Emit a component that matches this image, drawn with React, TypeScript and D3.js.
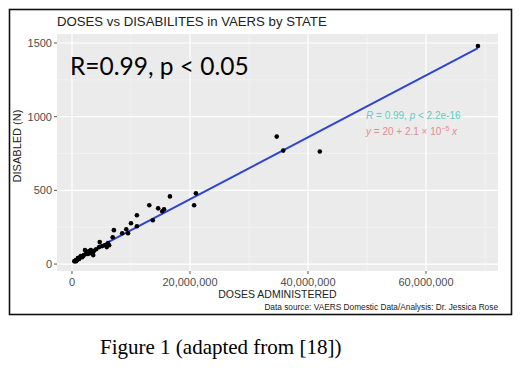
import React from "react";
import * as d3 from "d3";

// Doses administered (millions) and disabled counts per state
const doses: number[] = [
  68.8, 34.7, 35.8, 42.0, 21.0, 20.7, 16.6, 15.6, 15.3, 14.6,
  13.7, 13.1, 11.0, 11.0, 10.0, 9.5, 9.2, 8.5, 7.1, 6.9,
  5.9, 5.6, 4.7, 4.6, 4.1, 3.6, 3.4, 3.1, 2.5, 2.2,
  2.0, 1.9, 1.4, 1.2, 1.0, 0.85, 0.5, 0.7, 1.5, 2.4,
  2.9, 3.7, 6.1, 6.3, 0.4, 1.7, 2.7, 3.2, 5.1, 0.7,
];
const disabled: number[] = [
  1480, 865, 770, 764, 480, 399, 459, 372, 358, 378,
  297, 399, 331, 257, 277, 209, 236, 209, 230, 182,
  115, 128, 149, 115, 101, 61, 81, 74, 81, 95,
  61, 54, 47, 34, 41, 27, 20, 27, 54, 68,
  88, 88, 142, 128, 20, 47, 68, 95, 122, 20,
];
const xTicks: number[] = [0, 20e6, 40e6, 60e6];
const xMinor: number[] = [10e6, 30e6, 50e6, 70e6];
const yTicks: number[] = [0, 500, 1000, 1500];
const yMinor: number[] = [250, 750, 1250];
const intercept = 20;
const slope = 2.1e-5;

const titleText = "DOSES vs DISABILITES in VAERS by STATE";
const bigLabel = "R=0.99, p < 0.05";
const xTitle = "DOSES ADMINISTERED";
const yTitle = "DISABLED (N)";
const captionText = "Data source: VAERS Domestic Data/Analysis: Dr. Jessica Rose";
const figCaption = "Figure 1 (adapted from [18])";

export default function App() {
  const W = 522, H = 376;
  const pL = 57, pR = 498, pT = 34, pB = 271;
  const x = d3.scaleLinear().domain([-2.54e6, 72.2e6]).range([pL, pR]);
  const y = d3.scaleLinear().domain([-47, 1561]).range([pB, pT]);
  const pts = doses.map((d, i) => ({ dx: d * 1e6, dy: disabled[i] }));
  const xs = pts.map((p) => p.dx);
  const lx0 = d3.min(xs) as number, lx1 = d3.max(xs) as number;
  const line = d3.line<number>().x((v) => x(v)).y((v) => y(intercept + slope * v));
  const fmt = d3.format(",");
  const sans = "'Liberation Sans', Arial, sans-serif";
  return (
    <svg width={W} height={H} style={{ position: "absolute", left: 0, top: 0, background: "#fff" }}>
      <rect x={9.5} y={9.5} width={502} height={305} fill="#fff" stroke="#111" strokeWidth={1.6} />
      <rect x={pL} y={pT} width={pR - pL} height={pB - pT} fill="#EBEBEB" />
      {xMinor.filter((v) => x(v) < pR).map((v) => (
        <line key={"xm" + v} x1={x(v)} x2={x(v)} y1={pT} y2={pB} stroke="#F7F7F7" strokeWidth={0.6} />
      ))}
      {yMinor.map((v) => (
        <line key={"ym" + v} x1={pL} x2={pR} y1={y(v)} y2={y(v)} stroke="#F7F7F7" strokeWidth={0.6} />
      ))}
      {xTicks.map((v) => (
        <line key={"xg" + v} x1={x(v)} x2={x(v)} y1={pT} y2={pB} stroke="#fff" strokeWidth={1.2} />
      ))}
      {yTicks.map((v) => (
        <line key={"yg" + v} x1={pL} x2={pR} y1={y(v)} y2={y(v)} stroke="#fff" strokeWidth={1.2} />
      ))}
      {/* ticks */}
      {xTicks.map((v) => (
        <g key={"xt" + v}>
          <line x1={x(v)} x2={x(v)} y1={pB} y2={pB + 3} stroke="#555" strokeWidth={1} />
          <text x={x(v)} y={286} textAnchor="middle" fontFamily={sans} fontSize={11} fill="#4D4D4D">
            {fmt(v)}
          </text>
        </g>
      ))}
      {yTicks.map((v) => (
        <g key={"yt" + v}>
          <line x1={pL - 3} x2={pL} y1={y(v)} y2={y(v)} stroke="#555" strokeWidth={1} />
          <text x={pL - 5} y={y(v) + 4} textAnchor="end" fontFamily={sans} fontSize={11} fill="#4D4D4D">
            {v}
          </text>
        </g>
      ))}
      {/* regression line */}
      <path d={line([lx0, lx1]) || ""} fill="none" stroke="#2F45D1" strokeWidth={2} />
      {/* points */}
      {pts.map((p, i) => (
        <circle key={i} cx={x(p.dx)} cy={y(p.dy)} r={2.3} fill="#000" />
      ))}
      {/* titles */}
      <text x={pL} y={26} fontFamily={sans} fontSize={13.2} fill="#222">{titleText}</text>
      <text x={70} y={75} fontFamily="Lato, 'Open Sans', sans-serif" fontSize={24.5} fill="#000">{bigLabel}</text>
      <text x={(pL + pR) / 2} y={298} textAnchor="middle" fontFamily={sans} fontSize={10.5} fill="#222">{xTitle}</text>
      <text transform={`translate(21,146) rotate(-90)`} textAnchor="middle" fontFamily={sans} fontSize={11} fill="#222">{yTitle}</text>
      <text x={pR} y={310} textAnchor="end" fontFamily={sans} fontSize={8.3} fill="#222">{captionText}</text>
      {/* stat annotation */}
      <text x={366} y={119} fontFamily={sans} fontSize={10} fill="#62CBC2">
        <tspan fontStyle="italic">R</tspan> = 0.99, <tspan fontStyle="italic">p</tspan> &lt; 2.2e-16
      </text>
      <text x={366} y={135} fontFamily={sans} fontSize={10} fill="#E38C8C">
        <tspan fontStyle="italic">y</tspan> = 20 + 2.1 × 10<tspan dy={-4} fontSize={7}>−5</tspan>
        <tspan dy={4}> </tspan><tspan fontStyle="italic">x</tspan>
      </text>
      <text x={100} y={354} fontFamily="'Liberation Serif', 'Times New Roman', serif" fontSize={21} fill="#000">
        {figCaption}
      </text>
    </svg>
  );
}
